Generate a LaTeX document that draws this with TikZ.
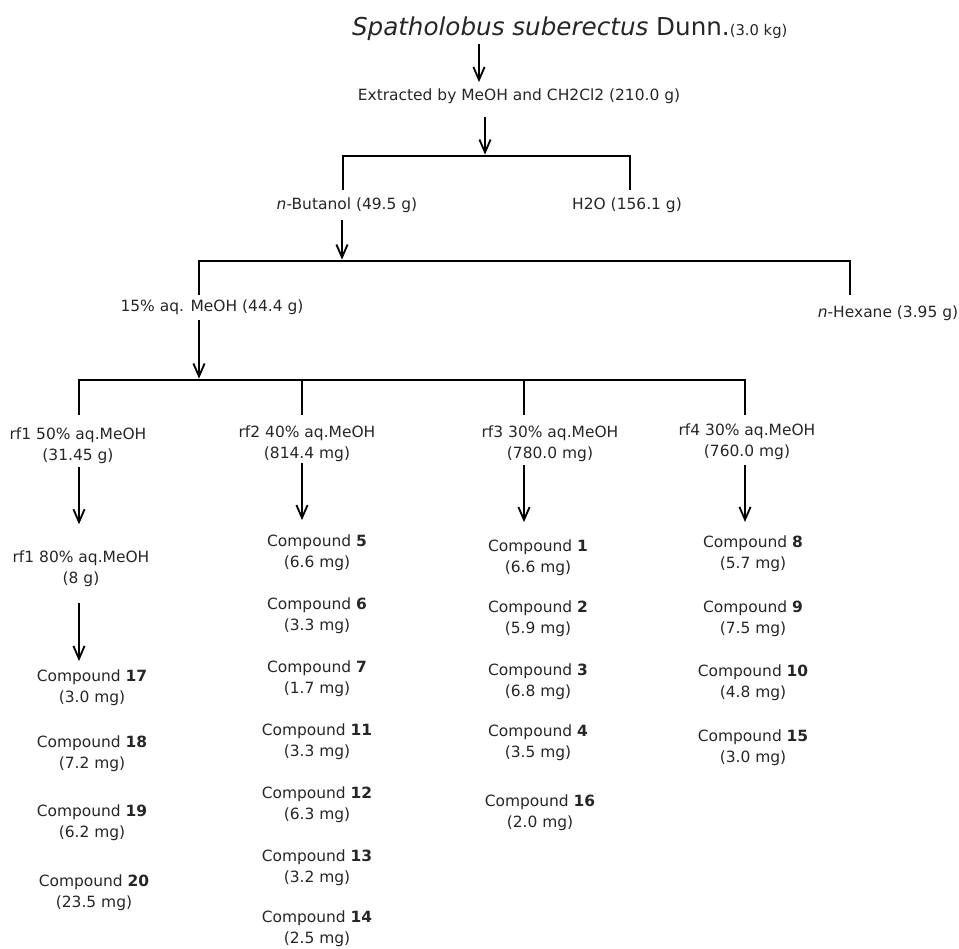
\documentclass[tikz,border=0pt]{standalone}
\usepackage{fontspec}
\setmainfont{DejaVu Sans}
\usetikzlibrary{arrows.meta}

\begin{document}
\begin{tikzpicture}[x=0.025cm, y=-0.025cm,
		every node/.style={inner sep=0pt, outer sep=0pt, text=black!85, font=\fontsize{11}{15}\selectfont},
		txt/.style={anchor=base},
		frac/.style={anchor=north, align=center},
		cmpd/.style={anchor=north, align=center},
		arr/.style={line width=1.3pt, -{Straight Barb[length=3.2mm, width=2.8mm]}},
		brk/.style={line width=1.2pt}]
			\useasboundingbox (0,0) rectangle (959,948);

			% Define nodes
			\node[anchor=base west] (plant) at (352,35) {{\fontsize{17.5}{20}\selectfont\textit{Spatholobus suberectus} Dunn.}{\fontsize{10.5}{12}\selectfont(3.0 kg)}};
			\node[txt] (extract) at (519,100) {Extracted by MeOH and CH2Cl2 (210.0 g)};
			\node[txt] (butanol) at (347,209) {\textit{n}-Butanol (49.5 g)};
			\node[txt] (water) at (627,209) {H2O (156.1 g)};
			\node[txt] (meoh) at (212,311) {15\% aq. MeOH (44.4 g)};
			\node[txt] (hexane) at (888,317) {\textit{n}-Hexane (3.95 g)};

			\node[frac] (rf1) at (78,428) {rf1 50\% aq.MeOH\\(31.45 g)};
			\node[frac] (rf2) at (307,426) {rf2 40\% aq.MeOH\\(814.4 mg)};
			\node[frac] (rf3) at (550,426) {rf3 30\% aq.MeOH\\(780.0 mg)};
			\node[frac] (rf4) at (747,424) {rf4 30\% aq.MeOH\\(760.0 mg)};
			\node[frac] (rf1b) at (81,551) {rf1 80\% aq.MeOH\\(8 g)};

			% Compounds, column by column
			\node[cmpd] (c17) at (92,670) {Compound \textbf{17}\\(3.0 mg)};
			\node[cmpd] (c18) at (92,736) {Compound \textbf{18}\\(7.2 mg)};
			\node[cmpd] (c19) at (92,805) {Compound \textbf{19}\\(6.2 mg)};
			\node[cmpd] (c20) at (94,875) {Compound \textbf{20}\\(23.5 mg)};

			\node[cmpd] (c5) at (317,535) {Compound \textbf{5}\\(6.6 mg)};
			\node[cmpd] (c6) at (317,598) {Compound \textbf{6}\\(3.3 mg)};
			\node[cmpd] (c7) at (317,661) {Compound \textbf{7}\\(1.7 mg)};
			\node[cmpd] (c11) at (317,724) {Compound \textbf{11}\\(3.3 mg)};
			\node[cmpd] (c12) at (317,787) {Compound \textbf{12}\\(6.3 mg)};
			\node[cmpd] (c13) at (317,850) {Compound \textbf{13}\\(3.2 mg)};
			\node[cmpd] (c14) at (317,911) {Compound \textbf{14}\\(2.5 mg)};

			\node[cmpd] (c1) at (538,540) {Compound \textbf{1}\\(6.6 mg)};
			\node[cmpd] (c2) at (538,601) {Compound \textbf{2}\\(5.9 mg)};
			\node[cmpd] (c3) at (538,664) {Compound \textbf{3}\\(6.8 mg)};
			\node[cmpd] (c4) at (538,725) {Compound \textbf{4}\\(3.5 mg)};
			\node[cmpd] (c16) at (540,795) {Compound \textbf{16}\\(2.0 mg)};

			\node[cmpd] (c8) at (753,536) {Compound \textbf{8}\\(5.7 mg)};
			\node[cmpd] (c9) at (753,601) {Compound \textbf{9}\\(7.5 mg)};
			\node[cmpd] (c10) at (753,665) {Compound \textbf{10}\\(4.8 mg)};
			\node[cmpd] (c15) at (753,730) {Compound \textbf{15}\\(3.0 mg)};

			% Bracket points
			\coordinate (a1) at (479,45);
			\coordinate (j1) at (485,156);
			\coordinate (b1l) at (343,156);
			\coordinate (b1r) at (630,156);
			\coordinate (j2) at (342,261);
			\coordinate (b2l) at (199,261);
			\coordinate (b2r) at (850,261);
			\coordinate (j3) at (199,380);
			\coordinate (d1) at (79,380);
			\coordinate (d2) at (302,380);
			\coordinate (d3) at (524,380);
			\coordinate (d4) at (745,380);

			% Draw brackets
			\draw[brk, shorten <=5pt, shorten >=5pt] (butanol.north -| b1l) -- (b1l) -- (b1r) -- (water.north -| b1r);
			\draw[brk, shorten <=3pt, shorten >=7.2pt] (meoh.north -| b2l) -- (b2l) -- (b2r) -- (hexane.north -| b2r);
			\draw[brk, shorten <=9.2pt, shorten >=6.4pt] (rf1.north -| d1) -- (d1) -- (d4) -- (rf4.north -| d4);
			\draw[brk, shorten >=7.8pt] (d2) -- (rf2.north -| d2);
			\draw[brk, shorten >=7.8pt] (d3) -- (rf3.north -| d3);

			% Draw arrows
			\draw[arr, shorten <=3pt, shorten >=4.4pt] (plant.south -| a1) -- (extract.north -| a1);
			\draw[arr, shorten <=9.5pt, shorten >=1pt] (extract.south -| j1) -- (j1);
			\draw[arr, shorten <=5.2pt, shorten >=1pt] (butanol.south -| j2) -- (j2);
			\draw[arr, shorten <=3.8pt, shorten >=1pt] (meoh.south -| j3) -- (j3);
			\draw[arr, shorten <=2.3pt, shorten >=19pt] (rf1.south -| d1) -- (rf1b.north -| d1);
			\draw[arr, shorten <=11.5pt, shorten >=6.4pt] (rf1b.south -| d1) -- (c17.north -| d1);
			\draw[arr, shorten <=1pt, shorten >=10.6pt] (rf2.south -| d2) -- (c5.north -| d2);
			\draw[arr, shorten <=2.3pt, shorten >=12.7pt] (rf3.south -| d3) -- (c1.north -| d3);
			\draw[arr, shorten <=3.8pt, shorten >=10pt] (rf4.south -| d4) -- (c8.north -| d4);

		\end{tikzpicture}
\end{document}
